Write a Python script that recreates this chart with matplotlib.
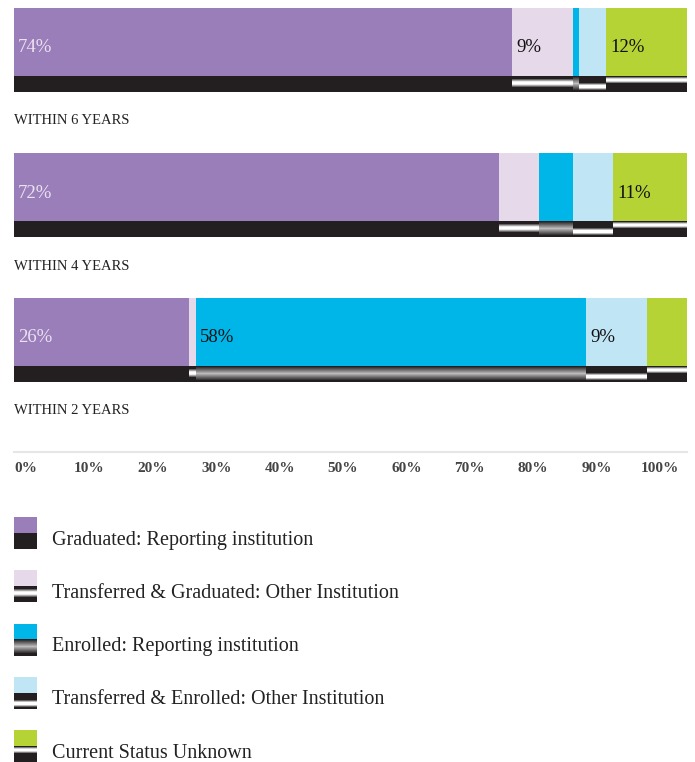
import matplotlib.pyplot as plt
import numpy as np

periods = ['WITHIN 6 YEARS', 'WITHIN 4 YEARS', 'WITHIN 2 YEARS']
categories = ['Graduated: Reporting institution',
              'Transferred & Graduated: Other Institution',
              'Enrolled: Reporting institution',
              'Transferred & Enrolled: Other Institution',
              'Current Status Unknown']
graduated = [74, 72, 26]
transfer_grad = [9, 6, 1]
enrolled = [1, 5, 58]
transfer_enr = [4, 6, 9]
unknown = [12, 11, 6]
ticks = [0, 10, 20, 30, 40, 50, 60, 70, 80, 90, 100]

colors = ['#9a7eba', '#e6d9ea', '#00b5e8', '#c0e6f6', '#b5d335']
dark = np.array([0x23, 0x1f, 0x20]) / 255.0
# grey level of each 1px row of the dark strip under each category (0 dark -> 1 white)
strips = [
    [0]*16,
    [0, 0, 0, 0.3, 0.6, 0.9, 1, 1, 0.9, 0.6, 0.3, 0, 0, 0, 0, 0],
    [0, 0.1, 0.2, 0.3, 0.4, 0.5, 0.6, 0.7, 0.6, 0.5, 0.4, 0.3, 0.2, 0.1, 0, 0],
    [0, 0, 0, 0, 0, 0, 0, 0.3, 0.7, 1, 1, 1, 0.7, 0.3, 0, 0],
    [0, 0.4, 0.8, 1, 1, 0.8, 0.4, 0, 0, 0, 0, 0, 0, 0, 0, 0],
]
label_colors = ['#ece2f0', '#111111', '#111111', '#111111', '#111111']

plt.rcParams['font.family'] = 'Liberation Serif'

W, H = 695, 762
fig = plt.figure(figsize=(W/100, H/100), dpi=100)

def grey(v):
    return tuple(dark + v*(1 - dark))

# main bars, y in pixel-like units
ax = fig.add_axes([14/W, 1 - 440/H, 673/W, 440/H])
ax.set_xlim(0, 100)
ax.set_ylim(440, 0)
ax.axis('off')

data = np.array([graduated, transfer_grad, enrolled, transfer_enr, unknown])
tops = [8, 153, 298]
for i, top in enumerate(tops):
    left = 0
    for j in range(len(categories)):
        v = data[j, i]
        ax.barh(top + 34, v, height=68, left=left, color=colors[j], linewidth=0)
        for r, g in enumerate(strips[j]):
            ax.barh(top + 68 + r + 0.5, v, height=1.05, left=left, color=grey(g), linewidth=0)
        if v >= 9:
            ax.text(left + 0.6, top + 40, '%d%%' % v, fontsize=13.5,
                    color=label_colors[j], va='center', ha='left')
        left += v
    ax.text(0, top + 113, periods[i], fontsize=10.5, color='#222222', va='center', ha='left')

# percentage scale
sc = fig.add_axes([14/W, 1 - 452/H, 673/W, 0.0001])
sc.set_xlim(-1.893, 104.26)
sc.set_xticks(ticks)
sc.set_xticklabels(['%d%%' % t for t in ticks], fontsize=11, fontweight='bold', color='#444444')
sc.tick_params(axis='x', length=0, pad=7)
sc.set_yticks([])
for s in ['top', 'left', 'right']:
    sc.spines[s].set_visible(False)
sc.spines['bottom'].set_color('#e6e6e6')
sc.spines['bottom'].set_linewidth(1.5)

# legend
lg = fig.add_axes([0, 0, 1, 1])
lg.set_xlim(0, W)
lg.set_ylim(H, 0)
lg.axis('off')
for j, name in enumerate(categories):
    top = 517 + j*53.25
    lg.barh(top + 8, 23, height=16, left=14, color=colors[j], linewidth=0)
    for r, g in enumerate(strips[j]):
        lg.barh(top + 16 + r + 0.5, 23, height=1.05, left=14, color=grey(g), linewidth=0)
    lg.text(52, top + 23, name, fontsize=14.5, color='#222222', va='center', ha='left')

fig.savefig('out.png', dpi=100)
